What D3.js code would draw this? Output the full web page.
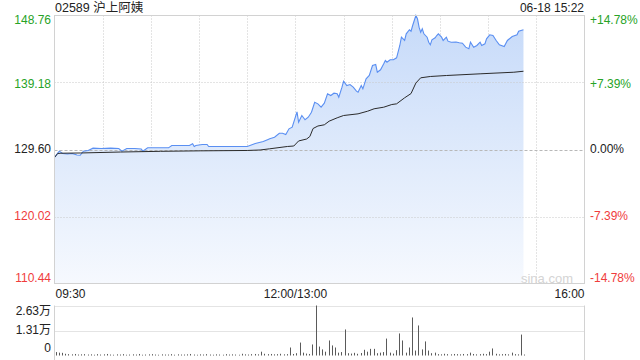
<!DOCTYPE html>
<html>
<head>
<meta charset="utf-8">
<script src="https://cdn.jsdelivr.net/npm/d3@7"></script>
<style>
  body { margin: 0; background: #fff; }
  svg text { font-family: "Liberation Sans", Arial, "Noto Sans CJK SC", sans-serif; font-size: 12px; }
</style>
</head>
<body>
<div id="chart"></div>
<script>
const title = '02589 沪上阿姨'
const stamp = '06-18 15:22'
const prevClose = 129.60
const priceTicks = [148.76, 139.18, 129.60, 120.02, 110.44]
const pctTicks = ['+14.78%', '+7.39%', '0.00%', '-7.39%', '-14.78%']
const timeTicks = ['09:30', '12:00/13:00', '16:00']
const volTicks = [26300, 13150, 0]
const volTickLabels = ['2.63万', '1.31万', '0']

const priceTimes = [
  '09:30','09:32','09:33','09:35','09:38','09:41','09:44','09:46','09:48','09:51',
  '09:54','09:59','10:05','10:10','10:12','10:15','10:20','10:24','10:25','10:28',
  '10:35','10:41','10:43','10:48','10:54','10:56','10:57','10:58','11:02','11:05',
  '11:06','11:13','11:23','11:30','11:35','11:40','11:43','11:44','11:47','11:50',
  '11:52','11:54','11:56','11:58','13:01','13:02','13:04','13:06','13:08','13:10',
  '13:12','13:14','13:16','13:18','13:20','13:22','13:24','13:26','13:27','13:29',
  '13:30','13:32','13:34','13:36','13:38','13:39','13:41','13:42','13:44','13:46',
  '13:48','13:50','13:51','13:53','13:55','13:56','13:57','13:59','14:01','14:03',
  '14:05','14:06','14:08','14:09','14:11','14:12','14:13','14:14','14:15','14:16',
  '14:17','14:18','14:19','14:20','14:22','14:23','14:24','14:25','14:27','14:28',
  '14:29','14:31','14:32','14:34','14:35','14:37','14:40','14:42','14:44','14:46',
  '14:48','14:49','14:51','14:53','14:55','14:56','14:58','14:59','15:01','15:03',
  '15:05','15:07','15:10','15:12','15:15','15:18','15:19','15:22'
]
const prices = [
  128.46,129.07,129.36,129.03,128.96,129.03,128.81,128.78,129.36,129.46,
  129.79,129.74,129.79,129.74,129.36,129.74,129.74,129.67,129.36,129.84,
  129.84,129.84,130.17,130.17,130.17,130.42,130.03,130.17,130.32,130.32,
  130.03,130.03,130.03,130.03,130.46,130.74,131.03,131.13,131.36,131.93,
  131.93,131.74,132.56,132.79,134.99,133.50,134.46,133.85,134.22,134.93,
  136.36,136.13,135.65,136.22,137.56,137.32,137.65,137.56,137.08,138.51,
  139.37,138.75,138.89,138.51,137.94,137.79,138.75,138.28,139.71,140.18,
  141.61,141.75,140.65,141.00,141.85,142.33,142.08,142.43,142.43,142.71,
  144.47,145.66,145.19,146.14,146.72,146.52,147.33,148.05,148.76,148.29,
  147.09,146.37,146.86,146.14,145.66,144.94,144.57,145.29,145.57,145.90,
  146.14,145.66,145.19,145.66,145.09,144.94,144.97,144.86,144.80,144.23,
  144.00,144.94,144.23,144.47,144.94,144.47,144.71,145.43,146.00,145.90,
  145.19,144.57,144.33,145.19,145.76,146.00,146.52,146.72
]

const avgTimes = [
  '09:30','09:32','09:34','09:46','10:11','10:36','11:01','11:30','11:38','11:44',
  '11:55','11:59','13:02','13:07','13:09','13:11','13:14','13:18','13:21','13:26',
  '13:30','13:39','13:45','13:49','13:55','14:00','14:03','14:08','14:12','14:15',
  '14:18','14:24','14:34','14:55','15:16','15:22'
]
const avgPrices = [
  128.46,129.03,129.07,129.10,129.24,129.34,129.41,129.46,129.53,129.70,
  130.03,130.10,130.82,131.10,131.46,132.60,132.96,133.13,133.65,134.13,
  134.46,134.70,135.08,135.42,135.65,136.03,136.13,136.99,137.60,139.10,
  139.85,140.04,140.18,140.42,140.65,140.79
]

// one bar per two trading minutes from the open
const volStepMin = 2
const volumes = [
  1800,1500,1400,900,700,600,800,500,600,700,
  500,600,400,700,500,600,800,500,400,600,
  500,700,400,500,600,500,800,400,500,600,
  700,500,400,600,500,500,700,400,600,500,
  500,600,800,500,400,600,500,700,500,400,
  600,500,400,700,500,600,500,400,900,600,
  500,700,800,600,2000,900,700,800,600,700,
  900,600,700,4200,800,1200,6800,1500,1000,800,
  5800,26300,4700,3200,2000,7900,5300,4200,1500,1800,
  13700,1200,1000,1400,900,1300,3000,2000,3500,3500,
  1200,1500,1800,8900,1500,1000,2800,11600,7900,1500,
  4200,20000,2600,15800,3200,7400,2600,1200,1500,700,
  600,900,700,600,800,700,600,800,700,1500,
  800,600,700,900,700,2000,3700,900,600,700,
  800,600,1500,700,600,11000,500
]

const green = '#27a327'
const red = '#f03c3c'
const ink = '#222'

const W = 640
const H = 360
const plotL = 54.5
const plotR = 584.5
const plotT = 15.5
const plotB = 283.5
const volT = 305.5
const volB = 355.5

function tradeMin(t) {
  const [h, m] = t.split('/')[0].split(':').map(Number)
  const mins = h * 60 + m
  return mins <= 12 * 60 ? mins - (9 * 60 + 30) : mins - 13 * 60 + 150
}

const svg = d3.select('#chart')
  .append('svg')
  .attr('width', W)
  .attr('height', H)

const x = d3.scaleLinear().domain([0, 330]).range([plotL, plotR])
const y = d3.scaleLinear()
  .domain([priceTicks[4], priceTicks[0]])
  .range([plotB, plotT])
const yVol = d3.scaleLinear().domain([0, volTicks[0]]).range([volB, volT])

const defs = svg.append('defs')
const grad = defs.append('linearGradient')
  .attr('id', 'areaFill')
  .attr('gradientUnits', 'userSpaceOnUse')
  .attr('x1', 0).attr('x2', 0)
  .attr('y1', plotT).attr('y2', plotB)
grad.append('stop').attr('offset', 0).attr('stop-color', '#c6daf9')
grad.append('stop').attr('offset', 1).attr('stop-color', '#f6f9fe')

/* grid */
svg.append('g')
  .selectAll('line')
  .data(d3.range(30, 330, 30))
  .enter()
  .append('line')
  .attr('x1', d => Math.round(x(d)) + 0.5)
  .attr('x2', d => Math.round(x(d)) + 0.5)
  .attr('y1', plotT)
  .attr('y2', plotB)
  .attr('stroke', '#c8c8c8')
  .attr('stroke-dasharray', '1 2')

/* price area + lines */
const pts = priceTimes.map((t, i) => ({ m: tradeMin(t), p: prices[i] }))
const avgPts = avgTimes.map((t, i) => ({ m: tradeMin(t), p: avgPrices[i] }))

svg.append('path')
  .datum(pts)
  .attr('fill', 'url(#areaFill)')
  .attr('d', d3.area().x(d => x(d.m)).y0(plotB).y1(d => y(d.p)))

svg.append('g')
  .selectAll('line')
  .data(priceTicks.slice(1, 4))
  .enter()
  .append('line')
  .attr('x1', plotL)
  .attr('x2', plotR)
  .attr('y1', d => Math.round(y(d)) + 0.5)
  .attr('y2', d => Math.round(y(d)) + 0.5)
  .attr('stroke', d => d === prevClose ? '#b8b8b8' : '#c8c8c8')
  .attr('stroke-dasharray', d => d === prevClose ? '3 2' : '1 2')

svg.append('path')
  .datum(pts)
  .attr('fill', 'none')
  .attr('stroke', '#5a8ff2')
  .attr('stroke-width', 1.1)
  .attr('d', d3.line().x(d => x(d.m)).y(d => y(d.p)))

svg.append('path')
  .datum(avgPts)
  .attr('fill', 'none')
  .attr('stroke', '#2b2b2b')
  .attr('stroke-width', 1)
  .attr('d', d3.line().x(d => x(d.m)).y(d => y(d.p)))

/* frame */
svg.append('rect')
  .attr('x', plotL).attr('y', plotT)
  .attr('width', plotR - plotL).attr('height', plotB - plotT)
  .attr('fill', 'none')
  .attr('stroke', '#d2d2d2')

svg.append('text')
  .attr('x', 573).attr('y', 283)
  .attr('text-anchor', 'end')
  .attr('fill', '#d4d4d4')
  .style('font-size', '13px')
  .text('sina.com')

/* price labels */
const labelY = [24, 88, 153, 220, 282]
const tickColor = d => d > prevClose ? green : d < prevClose ? red : ink

svg.append('g')
  .selectAll('text')
  .data(priceTicks)
  .enter()
  .append('text')
  .attr('x', 51)
  .attr('y', (d, i) => labelY[i])
  .attr('text-anchor', 'end')
  .attr('fill', tickColor)
  .text(d => d.toFixed(2))

svg.append('g')
  .selectAll('text')
  .data(pctTicks)
  .enter()
  .append('text')
  .attr('x', 590)
  .attr('y', (d, i) => labelY[i])
  .attr('fill', (d, i) => tickColor(priceTicks[i]))
  .text(d => d)

svg.append('text')
  .attr('x', 55).attr('y', 12)
  .attr('fill', ink)
  .style('font-size', '12.5px')
  .text(title)

svg.append('text')
  .attr('x', 584).attr('y', 12)
  .attr('text-anchor', 'end')
  .attr('fill', ink)
  .text(stamp)

/* time labels */
svg.append('g')
  .selectAll('text')
  .data(timeTicks)
  .enter()
  .append('text')
  .attr('x', d => x(tradeMin(d)))
  .attr('y', 298)
  .attr('text-anchor', (d, i) => ['start', 'middle', 'end'][i])
  .attr('dx', (d, i) => i === 0 ? 1 : 0)
  .attr('fill', ink)
  .text(d => d)

/* volume panel */
svg.append('g')
  .selectAll('line')
  .data(volTicks.slice(0, 2))
  .enter()
  .append('line')
  .attr('x1', plotL).attr('x2', plotR)
  .attr('y1', d => Math.round(yVol(d)) + 0.5)
  .attr('y2', d => Math.round(yVol(d)) + 0.5)
  .attr('stroke', '#c8c8c8')
  .attr('stroke-dasharray', '1 1')

svg.append('g')
  .selectAll('line')
  .data(volumes)
  .enter()
  .append('line')
  .attr('x1', (d, i) => Math.round(x(i * volStepMin)) + 1.5)
  .attr('x2', (d, i) => Math.round(x(i * volStepMin)) + 1.5)
  .attr('y1', volB)
  .attr('y2', d => yVol(d))
  .attr('stroke', '#5a5a5a')

svg.append('line')
  .attr('x1', plotL).attr('x2', plotL)
  .attr('y1', volT).attr('y2', H)
  .attr('stroke', '#d2d2d2')
svg.append('line')
  .attr('x1', plotR).attr('x2', plotR)
  .attr('y1', volT).attr('y2', H)
  .attr('stroke', '#d2d2d2')

const volLabelY = [315, 334, 352]
svg.append('g')
  .selectAll('text')
  .data(volTickLabels)
  .enter()
  .append('text')
  .attr('x', 51)
  .attr('y', (d, i) => volLabelY[i])
  .attr('text-anchor', 'end')
  .attr('fill', ink)
  .text(d => d)
</script>
</body>
</html>
